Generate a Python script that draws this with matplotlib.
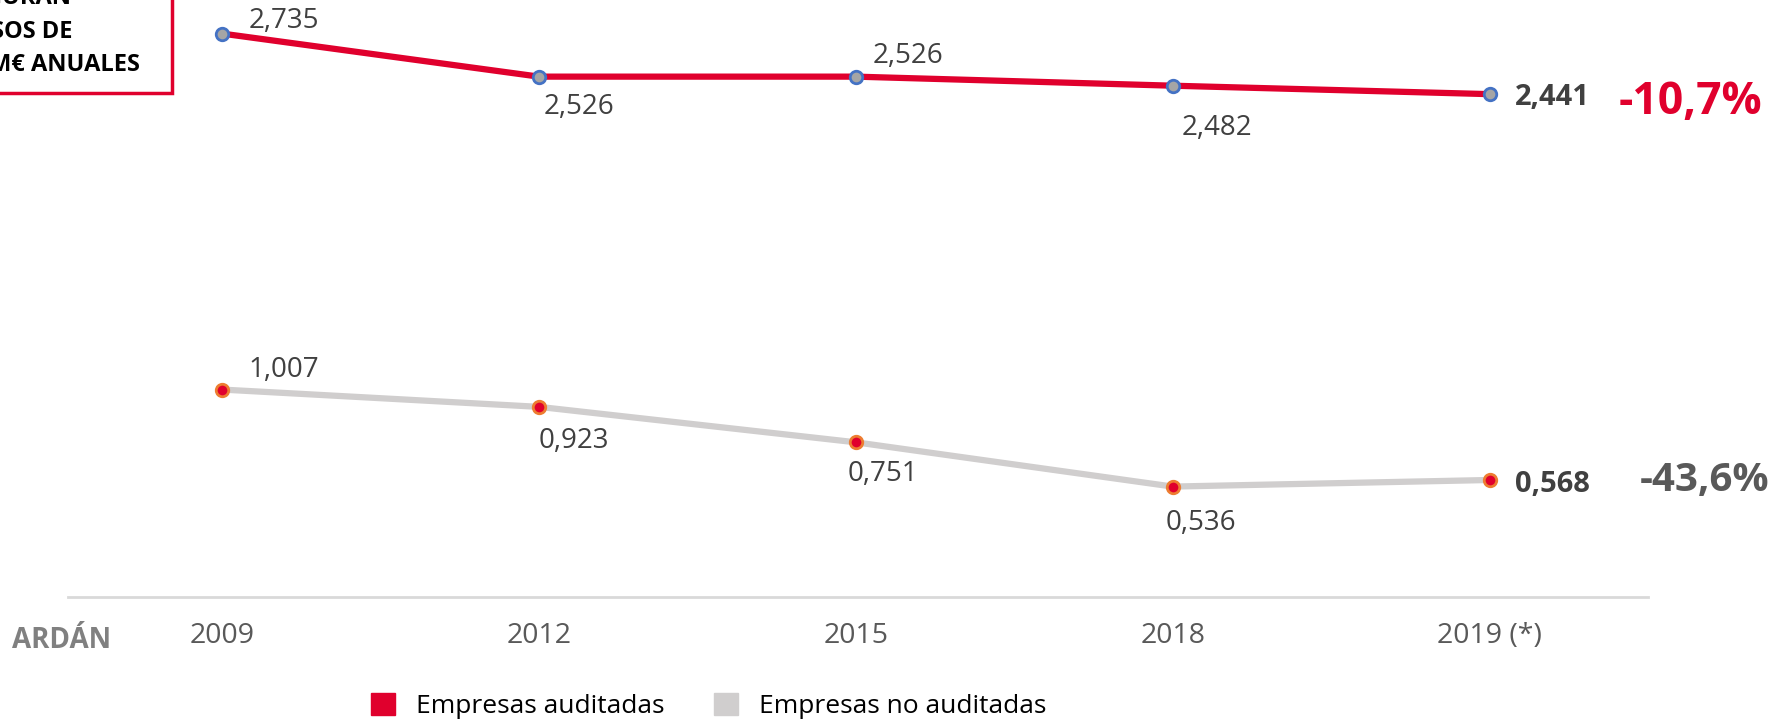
import matplotlib.pyplot as plt
from matplotlib.patches import Rectangle

plt.rcParams["font.family"] = ["Open Sans", "DejaVu Sans"]

# data
years = ["2009", "2012", "2015", "2018", "2019 (*)"]
auditadas = [2.735, 2.526, 2.526, 2.482, 2.441]
no_auditadas = [1.007, 0.923, 0.751, 0.536, 0.568]
var_auditadas = "-10,7%"
var_no_auditadas = "-43,6%"

RED = "#E0002D"
GREY = "#D0CECE"
TXT = "#404040"

# label offsets in pixels (dx, dy), dy positive = down
off_aud = [(62, -13), (40, 30), (52, -21), (44, 42), (63, 3)]
off_no = [(62, -20), (35, 34), (27, 32), (28, 36), (63, 5)]


def fmt(v):
    return f"{v:.3f}".replace(".", ",")


fig = plt.figure(figsize=(17.7, 7.2), dpi=100)
ax = fig.add_axes([68 / 1770, 123 / 720, 1580 / 1770, 597 / 720])
x = list(range(len(years)))

ax.plot(x, auditadas, color=RED, lw=4.5, solid_capstyle="butt", zorder=2,
        marker="o", ms=9, mfc="#A5A5A5", mec="#4472C4", mew=2)
ax.plot(x, no_auditadas, color=GREY, lw=4.5, solid_capstyle="butt", zorder=2,
        marker="o", ms=9, mfc=RED, mec="#ED7D31", mew=2)

for serie, offs in [(auditadas, off_aud), (no_auditadas, off_no)]:
    for i, (v, (dx, dy)) in enumerate(zip(serie, offs)):
        last = i == len(x) - 1
        ax.annotate(fmt(v), (i, v), xytext=(dx, -dy),
                    textcoords="offset pixels", ha="center", va="center",
                    fontsize=21 if last else 20, color=TXT,
                    fontweight="bold" if last else "normal")

ax.set_xlim(-0.486, 4.5)
ax.set_ylim(0, 2.898)
ax.set_xticks(x)
ax.set_xticklabels(years, fontsize=20.5, color="#595959")
ax.tick_params(axis="x", length=0, pad=18)
ax.set_yticks([])
for s in ["top", "left", "right"]:
    ax.spines[s].set_visible(False)
ax.spines["bottom"].set_color("#D9D9D9")
ax.spines["bottom"].set_linewidth(2)

# variation labels
fig.text(1690 / 1770, 1 - 103 / 720, var_auditadas, color=RED, fontsize=32,
         fontweight="bold", ha="center", va="center")
fig.text(1705 / 1770, 1 - 480 / 720, var_no_auditadas, color="#595959",
         fontsize=29, fontweight="bold", ha="center", va="center")

fig.text(62 / 1770, 1 - 641 / 720, "ARDÁN", color="#808080", fontsize=20,
         fontweight="bold", ha="center", va="center")

# box top-left
fig.patches.append(Rectangle((-20 / 1770, 1 - 93 / 720), 192 / 1770, 0.2,
                             transform=fig.transFigure, fill=False,
                             edgecolor=RED, lw=2.5, zorder=5))
for txt, xe, yc in [("FIGURAN", 72, -2), ("INGRESOS DE", 72, 32),
                    ("+1M€ ANUALES", 140, 65)]:
    fig.text(xe / 1770, 1 - yc / 720, txt, fontsize=17, fontweight="bold",
             color="black", ha="right", va="center")

# legend
h1 = Rectangle((0, 0), 1, 1, color=RED)
h2 = Rectangle((0, 0), 1, 1, color=GREY)
fig.legend([h1, h2], ["Empresas auditadas", "Empresas no auditadas"],
           loc="center left", bbox_to_anchor=(347 / 1770, 1 - 706 / 720),
           ncol=2, frameon=False, fontsize=19, handlelength=0.9,
           handleheight=0.9, handletextpad=0.8, columnspacing=1.9,
           labelcolor="black")

fig.savefig("out.png", dpi=100)
